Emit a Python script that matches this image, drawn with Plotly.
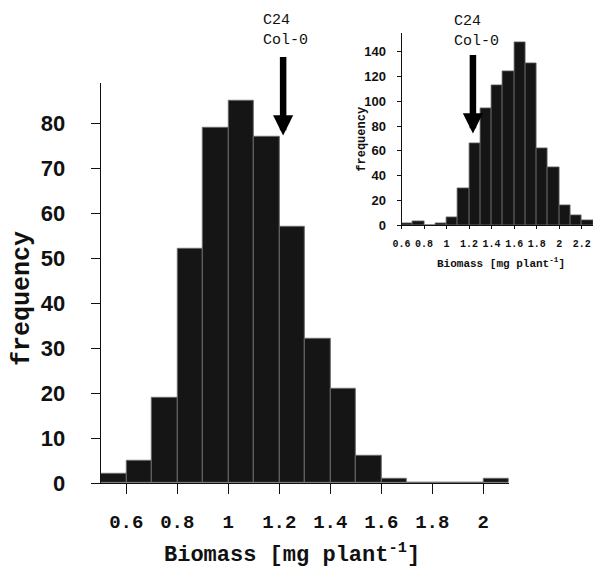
import plotly.graph_objects as go

# ---- main histogram data ----
main_bin_left = [0.5, 0.6, 0.7, 0.8, 0.9, 1.0, 1.1, 1.2, 1.3, 1.4, 1.5, 1.6, 1.7, 1.8, 1.9, 2.0]
main_counts = [2, 5, 19, 52, 79, 85, 77, 57, 32, 21, 6, 1, 0, 0, 0, 1]
main_xtick_vals = [0.6, 0.8, 1.0, 1.2, 1.4, 1.6, 1.8, 2.0]
main_xtick_text = ["0.6", "0.8", "1", "1.2", "1.4", "1.6", "1.8", "2"]
main_ytick_vals = [0, 10, 20, 30, 40, 50, 60, 70, 80]

# ---- inset histogram data ----
inset_bin_left = [0.6, 0.7, 0.8, 0.9, 1.0, 1.1, 1.2, 1.3, 1.4, 1.5, 1.6, 1.7, 1.8, 1.9, 2.0, 2.1, 2.2]
inset_counts = [1, 3, 0, 1, 6, 30, 66, 94, 113, 124, 148, 131, 62, 47, 16, 8, 4]
inset_xtick_vals = [0.6, 0.8, 1.0, 1.2, 1.4, 1.6, 1.8, 2.0, 2.2]
inset_xtick_text = ["0.6", "0.8", "1", "1.2", "1.4", "1.6", "1.8", "2", "2.2"]
inset_ytick_vals = [0, 20, 40, 60, 80, 100, 120, 140]

BIN_W = 0.1
arrow_label = "C24<br>Col-0"
main_arrow_x, main_arrow_y = 1.215, 77.3
inset_arrow_x, inset_arrow_y = 1.234, 74

W, H = 593, 567
MONO = "Liberation Mono"
SANS = "Liberation Sans"
BAR_COLOR = "#151515"
EDGE = "#6a6a6a"

def px_x(p):
    return p / W

def px_y(p):
    return 1 - p / H

fig = go.Figure()
fig.add_trace(go.Bar(
    x=[b + BIN_W / 2 for b in main_bin_left], y=main_counts, width=BIN_W,
    marker=dict(color=BAR_COLOR, line=dict(color=EDGE, width=1)),
    xaxis="x", yaxis="y", showlegend=False, hoverinfo="skip"))
fig.add_trace(go.Bar(
    x=[b + BIN_W / 2 for b in inset_bin_left], y=inset_counts, width=BIN_W,
    marker=dict(color=BAR_COLOR, line=dict(color=EDGE, width=0.8)),
    xaxis="x2", yaxis="y2", showlegend=False, hoverinfo="skip"))

axis_common = dict(showgrid=False, zeroline=False, showline=True, automargin=False,
                   linecolor="#111", linewidth=1.2, ticks="outside",
                   tickcolor="#111", tickwidth=1.2, tickangle=0)

fig.update_layout(
    width=W, height=H, margin=dict(l=0, r=0, t=0, b=0, pad=0),
    paper_bgcolor="white", plot_bgcolor="white", bargap=0,
    xaxis=dict(axis_common, domain=[px_x(100.8), px_x(508.8)], range=[0.5, 2.1],
               anchor="y", tickvals=main_xtick_vals, ticktext=main_xtick_text,
               ticklen=10, ticklabelstandoff=11,
               tickfont=dict(family=MONO, size=19, color="#111", weight="bold")),
    yaxis=dict(axis_common, domain=[px_y(483), px_y(82.8)], range=[0, 89],
               anchor="x", tickvals=main_ytick_vals, ticklen=9, ticklabelstandoff=21,
               ticksuffix="\u2009",
               tickfont=dict(family=SANS, size=22, color="#111", weight="bold")),
    xaxis2=dict(axis_common, domain=[px_x(401.5), 1.0], range=[0.6, 2.3],
                anchor="y2", tickvals=inset_xtick_vals, ticktext=inset_xtick_text,
                ticklen=3, linewidth=1, ticklabelstandoff=6,
                tickfont=dict(family=MONO, size=10, color="#111", weight="bold")),
    yaxis2=dict(axis_common, domain=[px_y(225), px_y(33.3)], range=[0, 155],
                anchor="x2", tickvals=inset_ytick_vals, ticklen=4, linewidth=1,
                ticklabelstandoff=8,
                tickfont=dict(family=SANS, size=13, color="#111", weight="bold")),
)

annotations = [
    # axis titles
    dict(text="Biomass [mg plant<sup>-1</sup>]", xref="paper", yref="paper",
         x=px_x(292), y=px_y(553), showarrow=False, xanchor="center", yanchor="middle",
         font=dict(family=MONO, size=22, color="#111", weight="bold")),
    dict(text="frequency", xref="paper", yref="paper", textangle=-90,
         x=px_x(22), y=px_y(299), showarrow=False, xanchor="center", yanchor="middle",
         font=dict(family=MONO, size=25, color="#111", weight="bold")),
    dict(text="Biomass [mg plant<sup>-1</sup>]", xref="paper", yref="paper",
         x=px_x(501), y=px_y(263), showarrow=False, xanchor="center", yanchor="middle",
         font=dict(family=MONO, size=11, color="#111", weight="bold")),
    dict(text="frequency", xref="paper", yref="paper", textangle=-90,
         x=px_x(361.7), y=px_y(139), showarrow=False, xanchor="center", yanchor="middle",
         font=dict(family=MONO, size=12, color="#111", weight="bold")),
    # C24 / Col-0 labels
    dict(text=arrow_label, xref="paper", yref="paper", x=px_x(261), y=px_y(30),
         showarrow=False, xanchor="left", yanchor="middle", align="left",
         font=dict(family=MONO, size=15, color="#111")),
    dict(text=arrow_label, xref="paper", yref="paper", x=px_x(452), y=px_y(31),
         showarrow=False, xanchor="left", yanchor="middle", align="left",
         font=dict(family=MONO, size=15, color="#111")),
    # arrows
    dict(text="", xref="x", yref="y", x=main_arrow_x, y=main_arrow_y,
         ax=0, ay=-80, showarrow=True, arrowhead=2, arrowwidth=6.5,
         arrowsize=0.62, arrowcolor="#000"),
    dict(text="", xref="x2", yref="y2", x=inset_arrow_x, y=inset_arrow_y,
         ax=0, ay=-80, showarrow=True, arrowhead=2, arrowwidth=6.5,
         arrowsize=0.62, arrowcolor="#000"),
]
fig.update_layout(annotations=annotations)

fig.write_html("out.html", config={"displayModeBar": False},
               post_script="document.body.style.margin='0px';document.body.style.overflow='hidden';")
